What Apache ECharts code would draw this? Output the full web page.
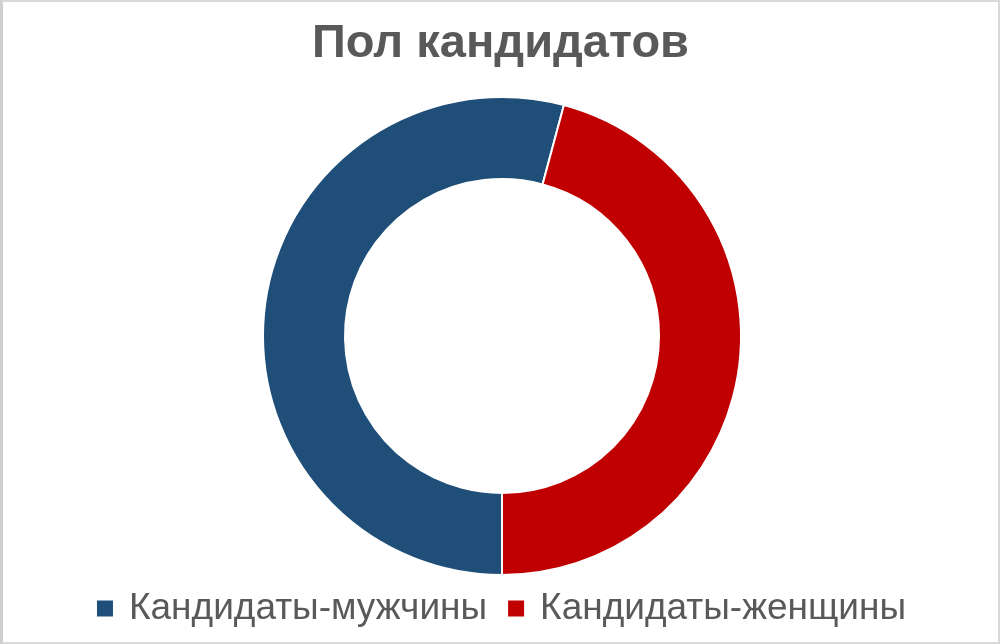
<!DOCTYPE html>
<html>
<head>
<meta charset="utf-8">
<script src="https://cdn.jsdelivr.net/npm/echarts@6/dist/echarts.min.js"></script>
<style>
html,body{margin:0;padding:0;background:#fff;}
#chart{width:1000px;height:644px;box-sizing:border-box;border:2px solid #d9d9d9;border-left:3px solid #cfcfcf;}
</style>
</head>
<body>
<div id="chart"></div>
<script>
const title = 'Пол кандидатов';
const categories = ['Кандидаты-мужчины', 'Кандидаты-женщины'];
const values = [13, 11];
const colors = ['#1F4E79', '#C00000'];

const chart = echarts.init(document.getElementById('chart'), null, {renderer: 'canvas'});
chart.setOption({
  animation: false,
  title: {
    text: title,
    left: 'center',
    top: 14,
    textStyle: {fontFamily: 'Liberation Sans', fontWeight: 'bold', fontSize: 47, color: '#595959'}
  },
  legend: {
    data: categories,
    bottom: 10,
    left: 'center',
    icon: 'rect',
    itemWidth: 18,
    itemHeight: 18,
    itemGap: 19,
    textStyle: {fontFamily: 'Liberation Sans', fontSize: 37, color: '#595959', padding: [0, 0, 0, 10]}
  },
  series: [{
    type: 'pie',
    center: [499, 334],
    radius: [157, 239],
    startAngle: -90,
    clockwise: true,
    label: {show: false},
    labelLine: {show: false},
    emphasis: {disabled: true},
    itemStyle: {borderColor: '#ffffff', borderWidth: 2},
    data: categories.map((c, i) => ({name: c, value: values[i], itemStyle: {color: colors[i]}}))
  }]
});
</script>
</body>
</html>
